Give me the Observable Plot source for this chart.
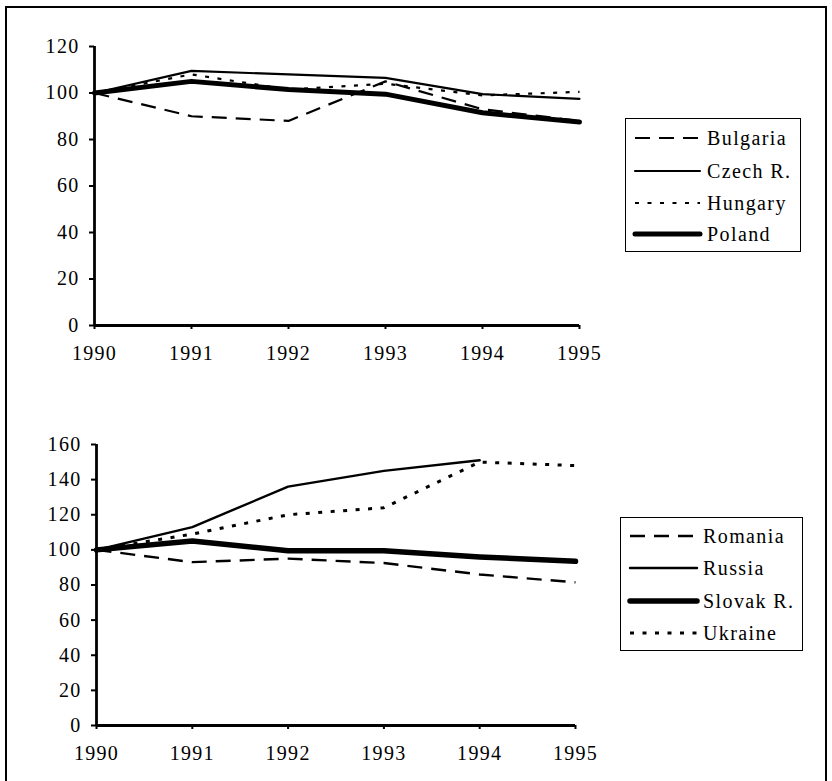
<!DOCTYPE html>
<html>
<head>
<meta charset="utf-8">
<script src="https://cdn.jsdelivr.net/npm/d3@7"></script>
<script src="https://cdn.jsdelivr.net/npm/@observablehq/plot@0.6"></script>
<style>
  html, body { margin: 0; padding: 0; background: #fff; }
  #page { position: relative; width: 832px; height: 781px; overflow: hidden; font-family: "Liberation Serif", serif; }
  #frame { position: absolute; left: 5px; top: 6px; width: 822px; height: 790px; border: 2px solid #000; box-sizing: border-box; }
  .panel { position: absolute; left: 0; }
  .legend { position: absolute; border: 1.5px solid #000; box-sizing: border-box; background: #fff; }
  .legend .item { position: absolute; left: 0; height: 20px; display: flex; align-items: center; }
  .legend .item span { font-size: 20px; letter-spacing: 1.4px; color: #000; line-height: 20px; }
</style>
</head>
<body>
<div id="page">
  <div id="frame"></div>
  <div id="top" class="panel" style="top:0px"></div>
  <div id="bottom" class="panel" style="top:400px"></div>
  <div id="legTop" class="legend" style="left:625px; top:118px; width:176px; height:134px"></div>
  <div id="legBottom" class="legend" style="left:620px; top:517px; width:183px; height:134px"></div>
</div>
<script>
// ---- data ----
const years = [1990, 1991, 1992, 1993, 1994, 1995];
const topSeries = ["Bulgaria", "Czech R.", "Hungary", "Poland"];
const bulgaria = [100, 90, 88, 105, 93, 88];
const czech    = [100, 109.5, 108, 106.5, 99.5, 97.5];
const hungary  = [100, 108, 101.5, 104, 99, 100.5];
const poland   = [100, 105, 101.5, 99.5, 91.5, 87.5];
const topTicks = [0, 20, 40, 60, 80, 100, 120];

const bottomSeries = ["Romania", "Russia", "Slovak R.", "Ukraine"];
const romania = [100, 93, 95, 92.5, 86, 81.5];
const russia  = [100, 113, 136, 145, 151, null];
const slovak  = [100, 105, 99.5, 99.5, 96, 93.5];
const ukraine = [100, 109, 120, 124, 150, 148];
const bottomTicks = [0, 20, 40, 60, 80, 100, 120, 140, 160];

// ---- styles (line look per series) ----
const styles = {
  "Bulgaria":  {strokeWidth: 2.2, dash: "15,9"},
  "Czech R.":  {strokeWidth: 2.2, dash: null},
  "Hungary":   {strokeWidth: 2.2, dash: "4,8.5"},
  "Poland":    {strokeWidth: 5,   dash: null},
  "Romania":   {strokeWidth: 2.4, dash: "15,9"},
  "Russia":    {strokeWidth: 2.4, dash: null},
  "Slovak R.": {strokeWidth: 5.5, dash: null},
  "Ukraine":   {strokeWidth: 3,   dash: "4,8.5"}
};

function toRows(names, arrays) {
  const rows = [];
  names.forEach((n, i) => {
    arrays[i].forEach((v, j) => {
      if (v != null) rows.push({series: n, year: years[j], value: v});
    });
  });
  return rows;
}

const topRows = toRows(topSeries, [bulgaria, czech, hungary, poland]);
const bottomRows = toRows(bottomSeries, [romania, russia, slovak, ukraine]);

function makePlot(rows, names, ticks, ymax, opts) {
  const lineMarks = names.map(n => Plot.line(rows.filter(r => r.series === n), {
    x: "year", y: "value",
    stroke: "#000",
    strokeWidth: styles[n].strokeWidth,
    strokeDasharray: styles[n].dash,
    strokeLinejoin: "round",
    strokeLinecap: styles[n].dash ? "butt" : "round"
  }));
  return Plot.plot({
    width: 832,
    height: opts.height,
    marginLeft: opts.left,
    marginRight: 832 - opts.right,
    marginTop: opts.top,
    marginBottom: opts.bottom,
    style: {fontFamily: "Liberation Serif, serif", fontSize: "20px", letterSpacing: "1.3px", color: "#000", background: "transparent", overflow: "visible"},
    x: {domain: [1990, 1995]},
    y: {domain: [0, ymax]},
    marks: [
      Plot.axisY({ticks: ticks, tickSize: 5, tickPadding: 10, strokeWidth: 2, label: null, tickFormat: d => String(d)}),
      Plot.axisX({ticks: years, tickSize: 4, tickPadding: 16, strokeWidth: 2, label: null, tickFormat: d => String(d)}),
      Plot.ruleX([1990], {y1: 0, y2: ymax, stroke: "#000", strokeWidth: 2.8}),
      Plot.ruleY([0], {x1: 1990, x2: 1995, stroke: "#000", strokeWidth: 2.8}),
      ...lineMarks
    ]
  });
}

document.getElementById("top").appendChild(
  makePlot(topRows, topSeries, topTicks, 120, {height: 380, left: 94, right: 579, top: 46, bottom: 55})
);
document.getElementById("bottom").appendChild(
  makePlot(bottomRows, bottomSeries, bottomTicks, 160, {height: 381, left: 96, right: 575, top: 44, bottom: 56})
);

function legend(el, names, lineX0, lineX1, textX, ys) {
  names.forEach((n, i) => {
    const s = styles[n];
    const item = document.createElement("div");
    item.className = "item";
    item.style.top = (ys[i] - 10) + "px";
    const w = lineX1 - lineX0;
    const svg = d3.create("svg").attr("width", textX).attr("height", 20).style("display", "block");
    svg.append("line")
      .attr("x1", lineX0).attr("x2", lineX1).attr("y1", 10).attr("y2", 10)
      .attr("stroke", "#000").attr("stroke-width", s.strokeWidth)
      .attr("stroke-dasharray", s.dash)
      .attr("stroke-linecap", s.dash ? "butt" : "round");
    item.appendChild(svg.node());
    const span = document.createElement("span");
    span.textContent = n;
    item.appendChild(span);
    el.appendChild(item);
  });
}

legend(document.getElementById("legTop"), topSeries, 9, 74, 81, [19, 52, 84, 115]);
legend(document.getElementById("legBottom"), bottomSeries, 9, 76, 82, [18, 50, 83, 115]);
</script>
</body>
</html>
